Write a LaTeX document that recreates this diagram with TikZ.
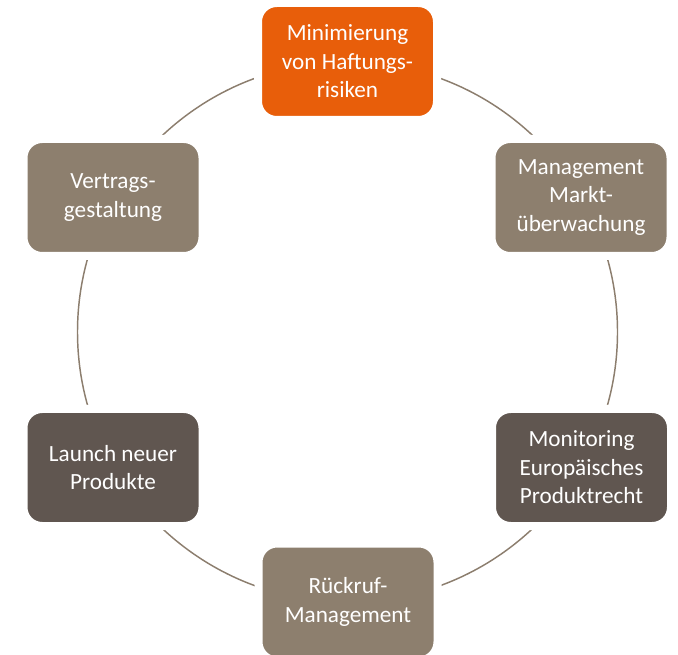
\documentclass[tikz,border=0pt]{standalone}
\usepackage{fontspec}
\setmainfont{Carlito}
\definecolor{haftorange}{RGB}{232,94,10}
\definecolor{taupe}{RGB}{141,127,110}
\definecolor{darktaupe}{RGB}{96,86,80}
\definecolor{ringline}{RGB}{140,126,110}

\begin{document}
\begin{tikzpicture}[%
x=0.75pt, y=-0.75pt,
box/.style={rectangle, rounded corners=14pt, draw=white, line width=6pt,
    minimum width=134.25pt, minimum height=87.75pt, inner sep=0pt,
    text=white, align=center, font=\fontsize{17.4}{21.4}\selectfont},
ring/.style={draw=ringline, line width=1.1pt}]
\useasboundingbox (0,0) rectangle (678,655);
\coordinate (mitte) at (347.5,332);
\draw[ring] (mitte) circle[radius=202.5pt];
% die sechs Felder im Uhrzeigersinn
\node[box, fill=haftorange] (haftung) at (347.5,61.5) {Minimierung\\von Haftungs-\\risiken};
\node[box, fill=taupe] (markt) at (581,197.5) {Management\\Markt-\\überwachung};
\node[box, fill=darktaupe] (monitoring) at (581.5,467.5) {Monitoring\\Europäisches\\Produktrecht};
\node[box, fill=taupe] (rueckruf) at (348,602) {Rückruf-\\Management};
\node[box, fill=darktaupe] (launch) at (113,467.5) {Launch neuer\\Produkte};
\node[box, fill=taupe] (vertrag) at (113,197.5) {Vertrags-\\gestaltung};
\end{tikzpicture}
\end{document}
